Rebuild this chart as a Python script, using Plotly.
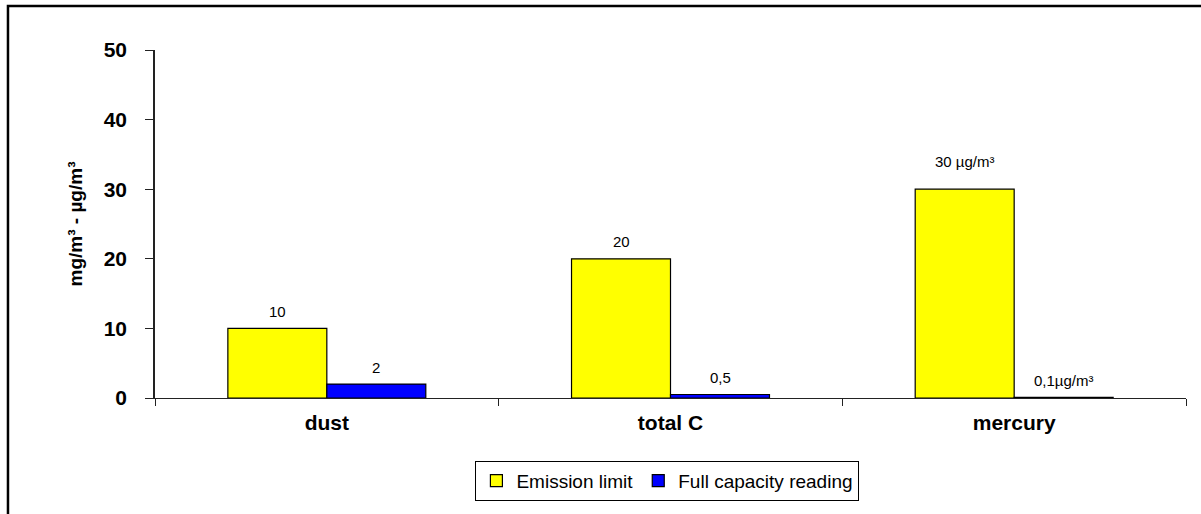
import plotly.graph_objects as go

# Pollutant categories and measured values
categories = ["dust", "total C", "mercury"]
emission_limit = [10, 20, 30]
full_capacity = [2, 0.5, 0.1]
emission_labels = ["10", "20", "30 µg/m³"]
capacity_labels = ["2", "0,5", "0,1µg/m³"]
y_ticks = [0, 10, 20, 30, 40, 50]

FONT = "Arial, Liberation Sans, sans-serif"

fig = go.Figure()
fig.add_trace(go.Bar(
    x=categories, y=emission_limit, name="Emission limit",
    marker=dict(color="#FFFF00", line=dict(color="black", width=1.2)),
))
fig.add_trace(go.Bar(
    x=categories, y=full_capacity, name="Full capacity reading",
    marker=dict(color="#0000FF", line=dict(color="black", width=1.2)),
))

# value labels above each bar
bar_half = 49.5
extra_lift = {"30 µg/m³": 11}
for vals, texts, side in ((emission_limit, emission_labels, -1),
                          (full_capacity, capacity_labels, 1)):
    for cat, v, t in zip(categories, vals, texts):
        fig.add_annotation(
            x=cat, y=v, text=t, showarrow=False,
            xshift=side * bar_half, yshift=17 + extra_lift.get(t, 0),
            font=dict(family=FONT, size=15, color="black"),
            bgcolor="white" if v < 1 else None,
        )

# outer chart frame
fig.add_shape(
    type="rect", xref="paper", yref="paper",
    x0=-0.1426, x1=1.2, y0=-0.6, y1=1.1264,
    line=dict(color="black", width=2.5), fillcolor="rgba(0,0,0,0)",
    layer="below",
)

fig.update_layout(
    width=1201, height=514,
    margin=dict(l=155, r=15, t=50, b=116),
    paper_bgcolor="white", plot_bgcolor="white",
    barmode="group", bargap=0.424, bargroupgap=0,
    font=dict(family=FONT, color="black"),
    showlegend=True,
    legend=dict(
        orientation="h", x=0.497, xanchor="center", y=-0.238, yanchor="middle",
        font=dict(family=FONT, size=19, color="black"),
        bordercolor="black", borderwidth=1, bgcolor="white",
        itemwidth=30, tracegroupgap=0,
    ),
    xaxis=dict(
        type="category", showgrid=False, showline=True,
        linecolor="#222", linewidth=1.2,
        ticks="outside", tickson="boundaries", ticklen=7, tickcolor="#222",
        tickfont=dict(family=FONT, size=21, color="black", weight="bold"),
        ticklabelstandoff=6,
    ),
    yaxis=dict(
        range=[0, 50], tickvals=y_ticks, showgrid=False, zeroline=False,
        showline=True, linecolor="#222", linewidth=1.5,
        ticks="outside", ticklen=8, tickcolor="#222",
        tickfont=dict(family=FONT, size=21, color="black", weight="bold"),
        ticklabelstandoff=14,
        title=dict(text="mg/m³ - µg/m³", standoff=16,
                   font=dict(family=FONT, size=19, color="black", weight="bold")),
    ),
)

fig.write_html("out.html")
